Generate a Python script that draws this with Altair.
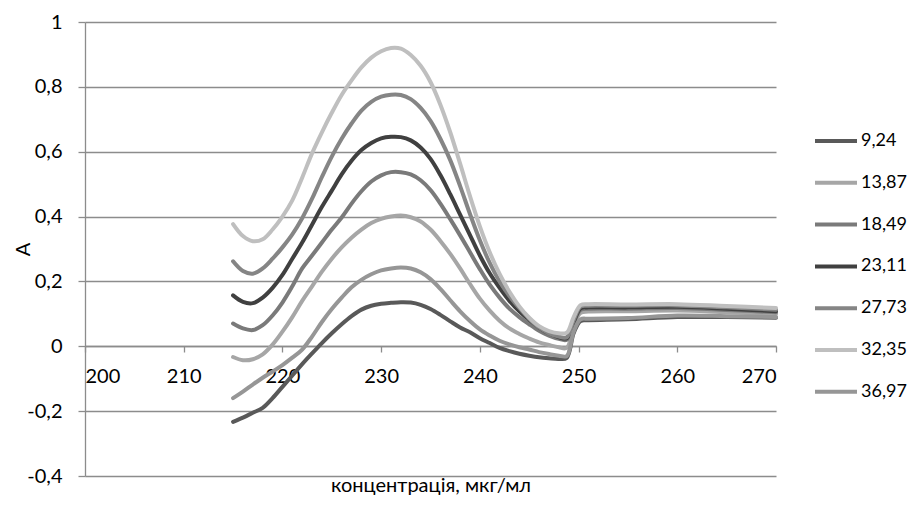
import altair as alt
import pandas as pd

wavelength = [215, 216, 217, 218, 219, 220, 221, 222, 223, 224, 225, 226, 227, 228, 229,
              230, 231, 232, 233, 234, 235, 236, 237, 238, 239, 240, 241, 242, 243, 244,
              245, 246, 247, 248, 248.8, 249.5, 250.2, 251, 255, 260, 265, 270]

series_labels = ["9,24", "13,87", "18,49", "23,11", "27,73", "32,35", "36,97"]
series_colors = ["#595959", "#a6a6a6", "#7a7a7a", "#404040", "#858585", "#bfbfbf", "#969696"]

a_9_24 = [-0.233, -0.22, -0.205, -0.19, -0.16, -0.125, -0.09, -0.055, -0.022, 0.01, 0.04, 0.068,
          0.093, 0.113, 0.125, 0.131, 0.134, 0.136, 0.135, 0.128, 0.115, 0.097, 0.077, 0.058, 0.043,
          0.025, 0.01, -0.005, -0.015, -0.023, -0.029, -0.034, -0.037, -0.039, -0.036, 0.04, 0.078,
          0.08, 0.083, 0.09, 0.09, 0.088]
a_13_87 = [-0.033, -0.043, -0.04, -0.025, 0.005, 0.045, 0.09, 0.14, 0.185, 0.23, 0.27, 0.305,
           0.335, 0.36, 0.38, 0.393, 0.4, 0.403, 0.398, 0.385, 0.36, 0.325, 0.285, 0.24, 0.192,
           0.147, 0.11, 0.079, 0.055, 0.038, 0.024, 0.012, 0.004, -0.003, -0.005, 0.06, 0.103,
           0.107, 0.108, 0.11, 0.105, 0.1]
a_18_49 = [0.07, 0.055, 0.05, 0.065, 0.095, 0.135, 0.185, 0.24, 0.28, 0.32, 0.36, 0.397,
           0.44, 0.478, 0.508, 0.527, 0.537, 0.537, 0.53, 0.512, 0.482, 0.44, 0.392, 0.342, 0.29,
           0.238, 0.19, 0.15, 0.116, 0.09, 0.068, 0.048, 0.033, 0.023, 0.02, 0.07, 0.112,
           0.116, 0.116, 0.118, 0.112, 0.105]
a_23_11 = [0.157, 0.137, 0.133, 0.15, 0.18, 0.22, 0.27, 0.32, 0.375, 0.43, 0.48, 0.53,
           0.572, 0.605, 0.627, 0.641, 0.646, 0.645, 0.635, 0.613, 0.578, 0.528, 0.469, 0.406, 0.343,
           0.28, 0.225, 0.18, 0.14, 0.108, 0.082, 0.058, 0.04, 0.028, 0.025, 0.075, 0.117,
           0.12, 0.12, 0.122, 0.116, 0.108]
a_27_73 = [0.262, 0.232, 0.224, 0.24, 0.27, 0.305, 0.345, 0.395, 0.455, 0.522, 0.585, 0.64,
           0.687, 0.727, 0.754, 0.77, 0.776, 0.775, 0.762, 0.735, 0.695, 0.64, 0.574, 0.494, 0.408,
           0.327, 0.257, 0.2, 0.155, 0.118, 0.085, 0.058, 0.04, 0.03, 0.028, 0.08, 0.122,
           0.125, 0.125, 0.126, 0.12, 0.113]
a_32_35 = [0.377, 0.34, 0.324, 0.33, 0.36, 0.4, 0.45, 0.52, 0.595, 0.66, 0.72, 0.775,
           0.82, 0.86, 0.89, 0.91, 0.92, 0.918, 0.898, 0.865, 0.815, 0.745, 0.66, 0.563, 0.463,
           0.37, 0.29, 0.223, 0.168, 0.123, 0.088, 0.062, 0.047, 0.04, 0.042, 0.09, 0.127,
           0.13, 0.129, 0.13, 0.124, 0.118]
a_36_97 = [-0.16, -0.14, -0.118, -0.097, -0.078, -0.058, -0.035, -0.01, 0.03, 0.075, 0.115, 0.15,
           0.182, 0.205, 0.222, 0.234, 0.24, 0.243, 0.24, 0.228, 0.207, 0.177, 0.142, 0.108, 0.078,
           0.052, 0.033, 0.017, 0.006, -0.003, -0.01, -0.018, -0.024, -0.029, -0.03, 0.045, 0.083,
           0.085, 0.087, 0.095, 0.093, 0.09]

series_values = [a_9_24, a_13_87, a_18_49, a_23_11, a_27_73, a_32_35, a_36_97]

x_ticks = [200, 210, 220, 230, 240, 250, 260, 270]
y_ticks = [-0.4, -0.2, 0, 0.2, 0.4, 0.6, 0.8, 1]

rows = []
for lab, vals in zip(series_labels, series_values):
    for w, v in zip(wavelength, vals):
        rows.append({"nm": w, "A": v, "series": lab})
df = pd.DataFrame(rows)

FONT = "Lato"
GRID = "#8c8c8c"
FS = 20
PLOT_H = 454
ZERO_OFFSET = -round(PLOT_H * 0.4 / 1.4)

chart = alt.Chart(df).mark_line(
    strokeWidth=4, interpolate="catmull-rom", strokeCap="round", strokeJoin="round"
).encode(
    x=alt.X("nm:Q",
            scale=alt.Scale(domain=[200, 270], nice=False, zero=False),
            axis=alt.Axis(values=x_ticks, format="d", grid=False, offset=ZERO_OFFSET,
                          domainColor=GRID, domainWidth=1.3, tickColor=GRID, tickWidth=1.3,
                          tickSize=6, labelPadding=14, labelFontSize=FS, labelColor="#000000",
                          title="концентрація, мкг/мл", titleFontSize=FS, titleFontWeight="normal",
                          titleColor="#000000", titleBaseline="alphabetic", titleY=145)),
    y=alt.Y("A:Q",
            scale=alt.Scale(domain=[-0.4, 1], nice=False, zero=False),
            axis=alt.Axis(values=y_ticks, grid=True, gridColor=GRID, gridWidth=1.3,
                          domainColor=GRID, domainWidth=1.3, tickColor=GRID, tickWidth=1.3,
                          tickSize=7, labelPadding=16, labelFontSize=FS, labelColor="#000000",
                          labelExpr="replace(toString(round(datum.value*10)/10), '.', ',')",
                          title="A", titleFontSize=FS, titleFontWeight="normal",
                          titleColor="#000000", titleAngle=270, titleBaseline="alphabetic",
                          titleX=-56)),
    color=alt.Color("series:N",
                    scale=alt.Scale(domain=series_labels, range=series_colors),
                    sort=series_labels,
                    legend=alt.Legend(title=None, orient="none", legendX=728, legendY=96,
                                      symbolType="stroke", symbolSize=1764, symbolStrokeWidth=4,
                                      labelFontSize=18, labelColor="#000000", labelOffset=2,
                                      rowPadding=9.8, padding=0)),
).properties(
    width=691, height=PLOT_H,
    autosize=alt.AutoSizeParams(type="none"),
    padding={"left": 77, "top": 14, "right": 134, "bottom": 21},
).configure(font=FONT).configure_view(stroke=None)

chart.save("out.html", embed_options={"renderer": "svg", "actions": False})
